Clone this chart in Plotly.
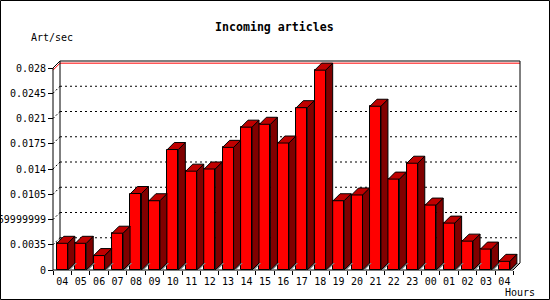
import plotly.graph_objects as go

# ---------------- data ----------------
hour_labels = ["04", "05", "06", "07", "08", "09", "10", "11", "12", "13", "14", "15", "16",
               "17", "18", "19", "20", "21", "22", "23", "00", "01", "02", "03", "04"]
art_per_sec = [0.0037, 0.0037, 0.0020, 0.0051, 0.0106, 0.0096, 0.0167, 0.0137, 0.0140,
               0.0170, 0.0198, 0.0202, 0.0176, 0.0225, 0.0277, 0.0096, 0.0104, 0.0227,
               0.0126, 0.0148, 0.0090, 0.0065, 0.0040, 0.0029, 0.0012]
y_tick_vals = [0, 0.0035, 0.007, 0.0105, 0.014, 0.0175, 0.021, 0.0245, 0.028]
y_tick_text = ["0", "0.0035", "0.0069999999", "0.0105", "0.014", "0.0175", "0.021", "0.0245", "0.028"]
title_text = "Incoming articles"
y_title = "Art/sec"
x_title = "Hours"

# ---------------- geometry (pixels) ----------------
W_PX, H_PX = 550, 300
L, R, T, B = 48, 522, 59, 272          # plot area
PW, PH = R - L, B - T
PITCH = 18.42                            # px per category
C0 = 62.3                                # px centre of first bar
PX_PER_UNIT = 202 / 0.028                # px per value unit
Y0PX = 270                               # px of value 0
DEPTH = 7                                # 3D depth in px

def ux(px):
    return (px - C0) / PITCH

def vy(px):
    return (Y0PX - px) / PX_PER_UNIT

DX = DEPTH / PITCH
DY = DEPTH / PX_PER_UNIT
HW = 5.5 / PITCH
XA = ux(53)            # front axis
XR = ux(520)           # back plane right edge
YMAX = y_tick_vals[-1]

def paper_x(px):
    return (px - L) / PW

def paper_y(px):
    return (B - px) / PH

n = len(art_per_sec)
xs = list(range(n))

fig = go.Figure()

# front faces
fig.add_trace(go.Bar(x=xs, y=art_per_sec, width=2 * HW,
                     marker=dict(color="#ff0000", line=dict(color="black", width=1)),
                     hoverinfo="skip", showlegend=False))

# floor shadow, side faces and top faces (computed from the values)
gx, gy, sx, sy, tx, ty = [], [], [], [], [], []
for i, v in zip(xs, art_per_sec):
    xr = i + HW
    xl = i - HW
    gx += [xr, xr + DX, xr + DX + 0.12, xr + 0.12, xr, None]
    gy += [0, DY, DY, 0, 0, None]
    sx += [xr, xr, xr + DX, xr + DX, xr, None]
    sy += [0, v, v + DY, DY, 0, None]
    tx += [xl, xl + DX, xr + DX, xr, xl, None]
    ty += [v, v + DY, v + DY, v, v, None]

fig.add_trace(go.Scatter(x=gx, y=gy, mode="lines", fill="toself", fillcolor="#808080",
                         line=dict(width=0, color="#808080"), hoverinfo="skip",
                         showlegend=False, cliponaxis=False))
fig.add_trace(go.Scatter(x=sx, y=sy, mode="lines", fill="toself", fillcolor="#800000",
                         line=dict(width=1, color="black"), hoverinfo="skip",
                         showlegend=False, cliponaxis=False))
fig.add_trace(go.Scatter(x=tx, y=ty, mode="lines", fill="toself", fillcolor="#c00000",
                         line=dict(width=1, color="black"), hoverinfo="skip",
                         showlegend=False, cliponaxis=False))

shapes = []

def seg(x0, y0, x1, y1, color="black", dash="solid"):
    shapes.append(dict(type="line", xref="x", yref="y", x0=x0, y0=y0, x1=x1, y1=y1,
                       layer="below", line=dict(color=color, width=1, dash=dash)))

# grid on back plane
for t in y_tick_vals[1:-1]:
    seg(XA + DX, t + DY, XR, t + DY, dash="2px,3px")
    seg(XA, t, XA + DX, t + DY, dash="2px,2px")

# max line (red)
vmax = max(art_per_sec)
seg(XA, vmax, XA + DX, vmax + DY, color="#ff0000")
seg(XA + DX, vmax + DY, XR, vmax + DY, color="#ff0000")

# frame
seg(XA, 0, XA, YMAX)
seg(XA, YMAX, XA + DX, YMAX + DY)
seg(XA + DX, DY, XA + DX, YMAX + DY)
seg(XA + DX, YMAX + DY, XR, YMAX + DY)
seg(XR, DY, XR, YMAX + DY)
seg(XA, 0, XR - DX, 0)
seg(XR - DX, 0, XR, DY)

# image border
shapes.append(dict(type="rect", xref="paper", yref="paper",
                   x0=paper_x(0.5), x1=paper_x(W_PX - 0.5),
                   y0=paper_y(H_PX - 0.5), y1=paper_y(0.5),
                   line=dict(color="black", width=1), layer="above"))

mono = "DejaVu Sans Mono"

annotations = [
    dict(text="<b>" + title_text + "</b>", xref="paper", yref="paper",
         x=paper_x(274), y=paper_y(27), xanchor="center", yanchor="middle",
         showarrow=False, font=dict(family=mono, size=11.6, color="black")),
    dict(text=y_title, xref="paper", yref="paper",
         x=paper_x(29), y=paper_y(37), xanchor="left", yanchor="middle",
         showarrow=False, font=dict(family=mono, size=10, color="black")),
    dict(text=x_title, xref="paper", yref="paper",
         x=paper_x(503), y=paper_y(292), xanchor="left", yanchor="middle",
         showarrow=False, font=dict(family=mono, size=10, color="black")),
]

fig.update_layout(
    width=W_PX, height=H_PX,
    margin=dict(l=L, r=W_PX - R, t=T, b=H_PX - B, autoexpand=False),
    paper_bgcolor="white", plot_bgcolor="white",
    showlegend=False,
    bargap=0,
    shapes=shapes,
    annotations=annotations,
    xaxis=dict(
        range=[ux(L), ux(R)], anchor="free", position=paper_y(Y0PX),
        showgrid=False, zeroline=False, showline=False,
        tickmode="array", tickvals=xs, ticktext=hour_labels,
        ticks="outside", ticklen=2, tickcolor="rgba(0,0,0,0)",
        tickfont=dict(family=mono, size=10, color="black"),
        minor=dict(tickmode="array", tickvals=[i - 0.5 for i in range(n + 1)],
                   ticks="outside", ticklen=4, tickcolor="black", tickwidth=1,
                   showgrid=False),
        fixedrange=True,
    ),
    yaxis=dict(
        range=[vy(B), vy(T)], anchor="free", position=paper_x(53),
        showgrid=False, zeroline=False, showline=False,
        tickmode="array", tickvals=y_tick_vals, ticktext=y_tick_text,
        ticks="outside", ticklen=5, tickcolor="black", tickwidth=1,
        tickfont=dict(family=mono, size=10, color="black"),
        fixedrange=True,
    ),
)

fig.write_html("out.html", config={"displayModeBar": False})
